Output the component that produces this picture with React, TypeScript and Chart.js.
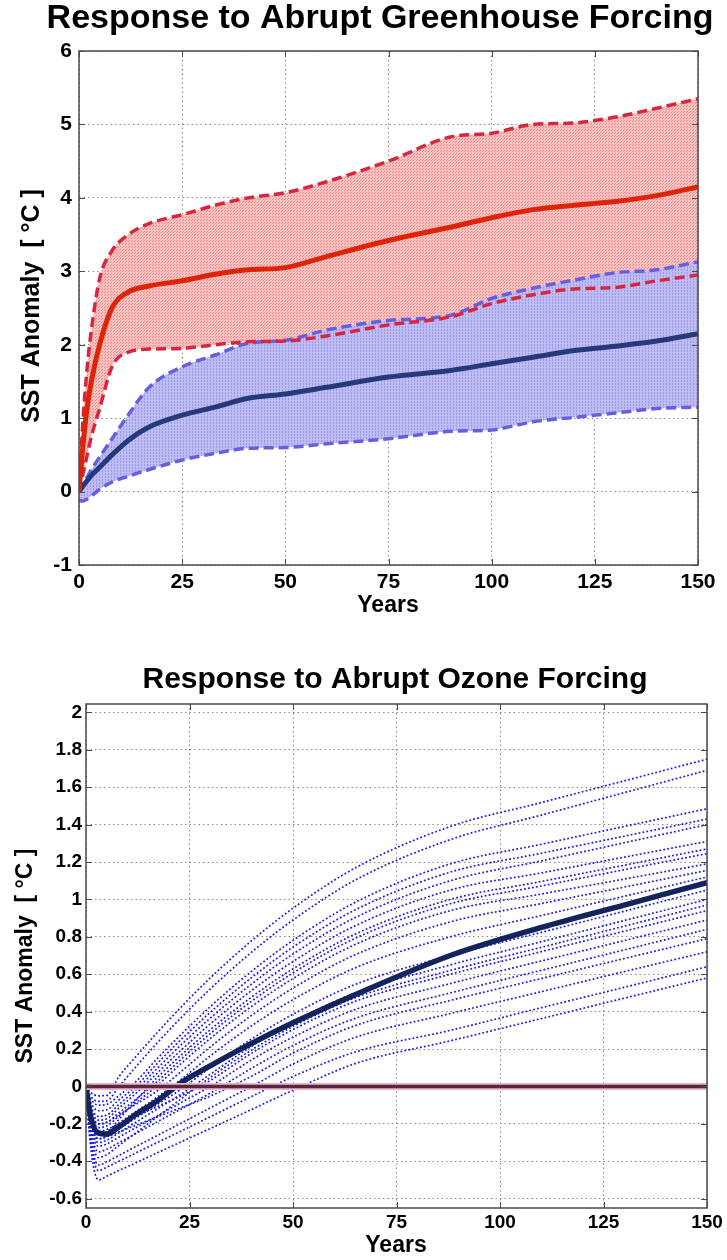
import React, { useEffect, useRef } from "react";
import { Chart, registerables } from "chart.js";
Chart.register(...registerables);

const FONT = '"Liberation Sans", Arial, Helvetica, sans-serif';

// ---------- Top panel: greenhouse forcing ----------
const ghgYears = [0, 1, 2, 3, 5, 8, 12, 17, 25, 33, 41, 50, 60, 75, 90, 100, 110, 120, 130, 140, 150];
const ghgRedMean = [0, 0.65, 1.15, 1.5, 2.0, 2.5, 2.72, 2.8, 2.87, 2.96, 3.02, 3.05, 3.2, 3.42, 3.6, 3.73, 3.84, 3.9, 3.95, 4.03, 4.15];
const ghgRedUpper = [0, 1.0, 1.7, 2.2, 2.9, 3.28, 3.5, 3.65, 3.77, 3.9, 4.0, 4.07, 4.22, 4.5, 4.83, 4.88, 5.0, 5.02, 5.1, 5.22, 5.35];
const ghgRedLower = [0, 0.25, 0.5, 0.75, 1.13, 1.7, 1.9, 1.94, 1.95, 2.0, 2.04, 2.05, 2.12, 2.27, 2.38, 2.56, 2.68, 2.76, 2.78, 2.87, 2.95];
const ghgBlueMean = [0, 0.08, 0.15, 0.22, 0.33, 0.5, 0.7, 0.88, 1.04, 1.15, 1.27, 1.33, 1.42, 1.56, 1.65, 1.74, 1.83, 1.92, 1.98, 2.05, 2.15];
const ghgBlueUpper = [0, 0.12, 0.2, 0.3, 0.47, 0.72, 1.05, 1.42, 1.7, 1.86, 2.02, 2.06, 2.2, 2.33, 2.4, 2.63, 2.77, 2.88, 2.98, 3.02, 3.13];
const ghgBlueLower = [-0.12, -0.13, -0.1, -0.06, 0.03, 0.13, 0.21, 0.3, 0.43, 0.52, 0.59, 0.6, 0.65, 0.72, 0.82, 0.84, 0.95, 1.01, 1.07, 1.13, 1.15];
const ghgYTicks = [-1, 0, 1, 2, 3, 4, 5, 6];
const yearTicks = [0, 25, 50, 75, 100, 125, 150];

// ---------- Bottom panel: ozone forcing ----------
const ozYears = [0, 1, 3, 5, 8, 12, 17, 23, 30, 40, 50, 65, 88, 110, 130, 150];
const ozMean = [0, -0.15, -0.25, -0.255, -0.215, -0.15, -0.08, 0.02, 0.11, 0.23, 0.34, 0.49, 0.7, 0.85, 0.97, 1.09];
const ozZeroYears = [0, 150];
const ozZero = [0, 0];
const ozMember01 = [0, -0.03, -0.05, -0.048, 0.054, 0.158, 0.283, 0.425, 0.58, 0.779, 0.953, 1.168, 1.39, 1.518, 1.634, 1.75];
const ozMember02 = [0, -0.048, -0.08, -0.077, 0, 0.104, 0.228, 0.368, 0.521, 0.718, 0.89, 1.103, 1.32, 1.451, 1.571, 1.69];
const ozMember03 = [0, -0.06, -0.1, -0.096, -0.048, 0.025, 0.144, 0.279, 0.426, 0.616, 0.781, 0.984, 1.19, 1.295, 1.39, 1.485];
const ozMember04 = [0, -0.078, -0.13, -0.125, -0.071, 0, 0.118, 0.251, 0.396, 0.582, 0.745, 0.944, 1.146, 1.247, 1.338, 1.43];
const ozMember05 = [0, -0.096, -0.16, -0.154, -0.096, -0.019, 0.092, 0.223, 0.365, 0.548, 0.708, 0.903, 1.1, 1.206, 1.303, 1.4];
const ozMember06 = [0, -0.108, -0.18, -0.173, -0.115, -0.038, 0.067, 0.195, 0.334, 0.513, 0.668, 0.859, 1.05, 1.142, 1.226, 1.31];
const ozMember07 = [0, -0.12, -0.2, -0.192, -0.14, -0.07, 0.022, 0.146, 0.282, 0.456, 0.607, 0.792, 0.977, 1.072, 1.159, 1.245];
const ozMember08 = [0, -0.132, -0.22, -0.211, -0.158, -0.088, 0, 0.123, 0.256, 0.428, 0.577, 0.759, 0.94, 1.029, 1.109, 1.19];
const ozMember09 = [0, -0.12, -0.2, -0.192, -0.151, -0.096, -0.027, 0.08, 0.211, 0.38, 0.526, 0.704, 0.88, 0.978, 1.066, 1.155];
const ozMember10 = [0, -0.15, -0.25, -0.24, -0.195, -0.135, -0.06, 0.038, 0.163, 0.324, 0.464, 0.634, 0.8, 0.914, 1.017, 1.12];
const ozMember11 = [0, -0.168, -0.28, -0.269, -0.227, -0.17, -0.099, -0.014, 0.101, 0.254, 0.386, 0.545, 0.7, 0.824, 0.937, 1.05];
const ozMember12 = [0, -0.18, -0.3, -0.288, -0.247, -0.192, -0.123, -0.041, 0.065, 0.215, 0.344, 0.5, 0.65, 0.774, 0.887, 1.0];
const ozMember13 = [0, -0.144, -0.24, -0.23, -0.2, -0.16, -0.11, -0.05, 0.032, 0.178, 0.304, 0.455, 0.6, 0.721, 0.83, 0.94];
const ozMember14 = [0, -0.192, -0.32, -0.307, -0.27, -0.221, -0.16, -0.086, 0, 0.142, 0.264, 0.411, 0.55, 0.671, 0.78, 0.89];
const ozMember15 = [0, -0.21, -0.35, -0.336, -0.3, -0.252, -0.192, -0.12, -0.036, 0.097, 0.219, 0.364, 0.5, 0.621, 0.73, 0.84];
const ozMember16 = [0, -0.168, -0.28, -0.269, -0.243, -0.208, -0.165, -0.113, -0.052, 0.055, 0.178, 0.325, 0.46, 0.577, 0.684, 0.79];
const ozMember17 = [0, -0.252, -0.42, -0.403, -0.368, -0.322, -0.265, -0.196, -0.115, 0, 0.12, 0.262, 0.39, 0.507, 0.614, 0.72];
const ozMember18 = [0, -0.27, -0.45, -0.432, -0.4, -0.356, -0.302, -0.238, -0.162, -0.054, 0.053, 0.184, 0.3, 0.421, 0.53, 0.64];
const ozMember19 = [0, -0.3, -0.5, -0.48, -0.449, -0.409, -0.357, -0.296, -0.225, -0.123, -0.02, 0.122, 0.244, 0.363, 0.472, 0.58];
const ozMember20 = [0, -0.156, -0.26, -0.25, -0.175, -0.075, 0.043, 0.168, 0.303, 0.478, 0.629, 0.814, 1.0, 1.096, 1.183, 1.27];
const ozMember21 = [0, -0.228, -0.38, -0.365, -0.315, -0.249, -0.166, -0.066, 0.048, 0.195, 0.321, 0.474, 0.62, 0.744, 0.857, 0.97];
const ozMembers = [
  ozMember01, ozMember02, ozMember03, ozMember04, ozMember05, ozMember06, ozMember07,
  ozMember08, ozMember09, ozMember10, ozMember11, ozMember12, ozMember13, ozMember14,
  ozMember15, ozMember16, ozMember17, ozMember18, ozMember19, ozMember20, ozMember21,
];
const ozYTicks = [-0.6, -0.4, -0.2, 0, 0.2, 0.4, 0.6, 0.8, 1, 1.2, 1.4, 1.6, 1.8, 2];

const pts = (xs: number[], ys: number[]) => xs.map((x, i) => ({ x, y: ys[i] }));

function makePattern(bg: string, fg: string, w: number, h: number, dots: [number, number][]) {
  const c = document.createElement("canvas");
  c.width = w;
  c.height = h;
  const g = c.getContext("2d")!;
  g.fillStyle = bg;
  g.fillRect(0, 0, w, h);
  g.fillStyle = fg;
  dots.forEach(([x, y]) => g.fillRect(x, y, 1, 1));
  return g.createPattern(c, "repeat")!;
}

type DecoCfg = {
  title: string; titleFont: string; titleX: number; titleY: number;
  xLabelFont: string; xLabelX: number; xLabelY: number;
  yLabel: string; yLabelFont: string; yLabelX: number; yLabelY: number;
  xTicks: number[]; yTicks: number[]; tickLen: number;
};

function decoPlugin(cfg: DecoCfg) {
  return {
    id: "deco",
    afterDraw(chart: any) {
      const { ctx, chartArea: a } = chart;
      const xs = chart.scales.x;
      const ys = chart.scales.y;
      ctx.save();
      ctx.strokeStyle = "#4a4a4a";
      ctx.lineWidth = 1;
      const seg = (x1: number, y1: number, x2: number, y2: number) => {
        ctx.beginPath();
        ctx.moveTo(x1, y1);
        ctx.lineTo(x2, y2);
        ctx.stroke();
      };
      cfg.xTicks.forEach((v) => {
        const px = Math.round(xs.getPixelForValue(v)) + 0.5;
        seg(px, a.bottom, px, a.bottom - cfg.tickLen);
        seg(px, a.top, px, a.top + cfg.tickLen);
      });
      cfg.yTicks.forEach((v) => {
        const py = Math.round(ys.getPixelForValue(v)) + 0.5;
        seg(a.left, py, a.left + cfg.tickLen, py);
        seg(a.right, py, a.right - cfg.tickLen, py);
      });
      ctx.lineWidth = 1.5;
      ctx.strokeRect(a.left, a.top, a.right - a.left, a.bottom - a.top);
      ctx.fillStyle = "#000";
      ctx.textAlign = "center";
      ctx.textBaseline = "middle";
      ctx.font = cfg.titleFont;
      ctx.fillText(cfg.title, cfg.titleX, cfg.titleY);
      ctx.font = cfg.xLabelFont;
      ctx.fillText("Years", cfg.xLabelX, cfg.xLabelY);
      ctx.translate(cfg.yLabelX, cfg.yLabelY);
      ctx.rotate(-Math.PI / 2);
      ctx.font = cfg.yLabelFont;
      ctx.fillText(cfg.yLabel, 0, 0);
      ctx.restore();
    },
  };
}

function axes(opts: {
  yMin: number; yMax: number; yTicks: number[]; yWidth: number; xHeight: number;
  tickSize: number; yPad: number; xPad: number;
}) {
  const gridColor = "#8a8a8a";
  return {
    x: {
      type: "linear",
      min: 0,
      max: 150,
      afterBuildTicks: (s: any) => { s.ticks = yearTicks.map((v) => ({ value: v })); },
      afterFit: (s: any) => { s.height = opts.xHeight; },
      ticks: {
        color: "#000",
        font: { family: FONT, size: opts.tickSize, weight: "bold" },
        padding: opts.xPad,
        maxRotation: 0,
        autoSkip: false,
        callback: (v: any) => String(v),
      },
      grid: { color: gridColor, lineWidth: 1, drawTicks: false },
      border: { display: false, dash: [1.5, 3] },
    },
    y: {
      type: "linear",
      min: opts.yMin,
      max: opts.yMax,
      afterBuildTicks: (s: any) => { s.ticks = opts.yTicks.map((v) => ({ value: v })); },
      afterFit: (s: any) => { s.width = opts.yWidth; },
      ticks: {
        color: "#000",
        font: { family: FONT, size: opts.tickSize, weight: "bold" },
        padding: opts.yPad,
        autoSkip: false,
        callback: (v: any) => String(Math.round(v * 10) / 10),
      },
      grid: { color: gridColor, lineWidth: 1, drawTicks: false },
      border: { display: false, dash: [1.5, 3] },
    },
  };
}

export default function App() {
  const topRef = useRef<HTMLCanvasElement>(null);
  const botRef = useRef<HTMLCanvasElement>(null);

  useEffect(() => {
    const redFill = makePattern("#f5c0be", "#ec8c8c", 3, 3, [[0, 0], [2, 1]]);
    const blueFill = makePattern("#bdbcf3", "#9e9beb", 3, 3, [[0, 0], [0, 2]]);

    const lineBase = { pointRadius: 0, pointHoverRadius: 0, cubicInterpolationMode: "monotone" as const };
    const dashStyle = { borderWidth: 3.5, borderDash: [10, 5] };

    const top = new Chart(topRef.current!, {
      type: "line",
      data: {
        datasets: [
          { ...lineBase, data: pts(ghgYears, ghgRedMean), borderColor: "#de2408", borderWidth: 5, fill: false },
          { ...lineBase, data: pts(ghgYears, ghgBlueMean), borderColor: "#26397a", borderWidth: 5, fill: false },
          { ...lineBase, ...dashStyle, data: pts(ghgYears, ghgRedLower), borderColor: "#d8263f", fill: false },
          { ...lineBase, ...dashStyle, data: pts(ghgYears, ghgBlueUpper), borderColor: "#675fe0", fill: { target: 4 }, backgroundColor: blueFill },
          { ...lineBase, ...dashStyle, data: pts(ghgYears, ghgBlueLower), borderColor: "#675fe0", fill: false },
          { ...lineBase, ...dashStyle, data: pts(ghgYears, ghgRedUpper), borderColor: "#d8263f", fill: { target: 2 }, backgroundColor: redFill },
        ] as any,
      },
      options: {
        animation: false,
        responsive: false,
        events: [],
        layout: { padding: { top: 51, right: 29, left: 0, bottom: 0 } },
        plugins: {
          legend: { display: false },
          tooltip: { enabled: false },
          filler: { drawTime: "beforeDatasetsDraw" } as any,
        },
        scales: axes({ yMin: -1, yMax: 6, yTicks: ghgYTicks, yWidth: 79, xHeight: 65, tickSize: 21, yPad: 7, xPad: 5 }) as any,
      },
      plugins: [
        decoPlugin({
          title: "Response to Abrupt Greenhouse Forcing",
          titleFont: `bold 34px ${FONT}`, titleX: 380, titleY: 19,
          xLabelFont: `bold 23px ${FONT}`, xLabelX: 388, xLabelY: 606,
          yLabel: "SST Anomaly  [ °C ]", yLabelFont: `bold 25px ${FONT}`, yLabelX: 32, yLabelY: 306,
          xTicks: yearTicks, yTicks: ghgYTicks, tickLen: 6,
        }),
      ],
    });

    const memberSets = ozMembers.map((m) => ({
      ...lineBase,
      data: pts(ozYears, m),
      borderColor: "#1c1ce0",
      borderWidth: 1.7,
      borderDash: [1.8, 2.2],
      fill: false,
    }));

    const bot = new Chart(botRef.current!, {
      type: "line",
      data: {
        datasets: [
          { ...lineBase, data: pts(ozZeroYears, ozZero), borderColor: "#58283a", borderWidth: 3.5, fill: false },
          { ...lineBase, data: pts(ozZeroYears, ozZero), borderColor: "#e8b6d4", borderWidth: 7, fill: false },
          { ...lineBase, data: pts(ozYears, ozMean), borderColor: "#13235c", borderWidth: 5.5, fill: false },
          ...memberSets,
        ] as any,
      },
      options: {
        animation: false,
        responsive: false,
        events: [],
        layout: { padding: { top: 64, right: 20, left: 0, bottom: 0 } },
        plugins: { legend: { display: false }, tooltip: { enabled: false } },
        scales: axes({ yMin: -0.65, yMax: 2.045, yTicks: ozYTicks, yWidth: 86, xHeight: 52, tickSize: 19, yPad: 4, xPad: 3 }) as any,
      },
      plugins: [
        decoPlugin({
          title: "Response to Abrupt Ozone Forcing",
          titleFont: `bold 30px ${FONT}`, titleX: 395, titleY: 40,
          xLabelFont: `bold 23px ${FONT}`, xLabelX: 396, xLabelY: 606,
          yLabel: "SST Anomaly  [ °C ]", yLabelFont: `bold 23px ${FONT}`, yLabelX: 26, yLabelY: 316,
          xTicks: yearTicks, yTicks: ozYTicks, tickLen: 6,
        }),
      ],
    });

    return () => {
      top.destroy();
      bot.destroy();
    };
  }, []);

  return (
    <div style={{ position: "absolute", left: 0, top: 0, width: 727, height: 1260, background: "#fff" }}>
      <canvas ref={topRef} width={727} height={630} style={{ position: "absolute", left: 0, top: 0, display: "block" }} />
      <canvas ref={botRef} width={727} height={620} style={{ position: "absolute", left: 0, top: 640, display: "block" }} />
    </div>
  );
}
